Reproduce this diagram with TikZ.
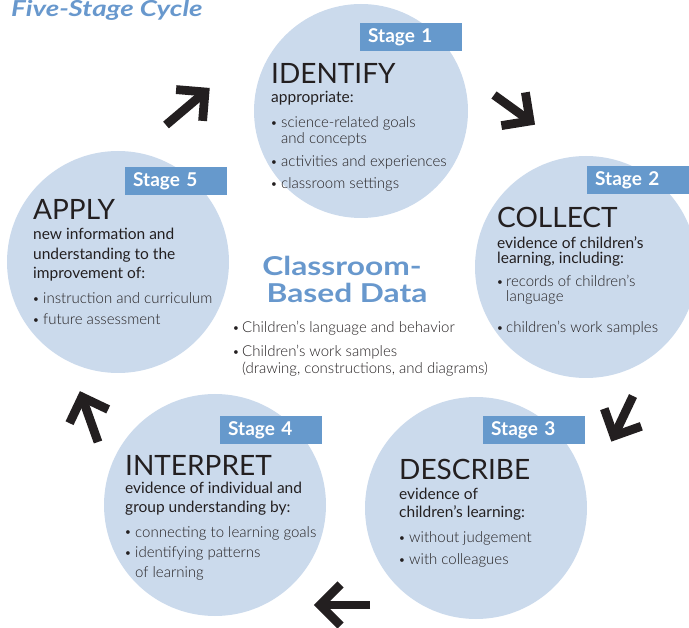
\documentclass[tikz,border=0pt]{standalone}
\usepackage{fontspec}
\setmainfont{Lato}
\newfontfamily\lightfont{Lato Light}
\usetikzlibrary{calc}
\definecolor{circ}{RGB}{203,218,236}
\definecolor{stageblue}{RGB}{102,153,204}
\definecolor{titleblue}{RGB}{104,152,205}
\definecolor{ink}{RGB}{35,31,32}
\begin{document}
\begin{tikzpicture}[x=1pt,y=-1pt,
  stagecirc/.style={circle, fill=circ, inner sep=0pt, minimum size=222pt},
  stagebox/.style={fill=stageblue, text=white, font=\fontsize{19}{19}\selectfont\bfseries, text width=86pt, inner xsep=8pt, minimum height=28pt, inner ysep=0pt, align=left, anchor=north west},
  head/.style={anchor=base west, inner sep=0pt, text=ink, font=\fontsize{28}{28}\selectfont},
  sub/.style={anchor=base west, inner sep=0pt, text=ink, font=\fontsize{15.5}{15.5}\selectfont},
  item/.style={anchor=base west, inner sep=0pt, text=ink, font=\fontsize{15}{15}\selectfont\lightfont},
  dot/.style={anchor=base west, inner sep=0pt, text=ink, font=\fontsize{10}{10}\selectfont},
  bigblue/.style={anchor=base, inner sep=0pt, text=titleblue, font=\fontsize{26}{26}\selectfont\bfseries},
  flow/.style={line width=8.8pt, draw=ink, line cap=butt, line join=miter}]
\useasboundingbox (0,0) rectangle (689,628);

% circles
\node[stagecirc, minimum size=214pt] (c1) at (361,111) {};
\node[stagecirc] (c2) at (586,267) {};
\node[stagecirc] (c5) at (118,262) {};
\node[stagecirc] (c4) at (215,505) {};
\node[stagecirc] (c3) at (476,508) {};

% title
\node[anchor=base west, inner sep=0pt, text=titleblue, font=\fontsize{22}{22}\selectfont\bfseries\itshape] (title) at (11,17) {\scalebox{1.26}[1]{Five-Stage Cycle}};

% stage boxes
\node[stagebox] (s1) at (360,23) {Stage 1};
\node[stagebox] (s2) at (587,166) {Stage 2};
\node[stagebox] (s5) at (125,167) {Stage 5};
\node[stagebox] (s4) at (220,416) {Stage 4};
\node[stagebox] (s3) at (483,416) {Stage 3};

% Stage 1
\node[head] (h1) at (271,84) {IDENTIFY};
\node[sub] (t1a) at (271,103) {appropriate:};
\node[dot] (d1a) at (271,127) {•};
\node[item] (t1b) at (281,128) {science-related goals};
\node[item] (t1c) at (281,144) {and concepts};
\node[dot] (d1b) at (271,166) {•};
\node[item] (t1d) at (281,167) {activities and experiences};
\node[dot] (d1c) at (271,188) {•};
\node[item] (t1e) at (281,189) {classroom settings};

% Stage 2
\node[head] (h2) at (497,228) {COLLECT};
\node[sub] (t2a) at (497,249) {evidence of children’s};
\node[sub] (t2b) at (497,264) {learning, including:};
\node[dot] (d2a) at (497,286) {•};
\node[item] (t2c) at (506,287) {records of children’s};
\node[item] (t2d) at (506,302) {language};
\node[dot] (d2b) at (497,332) {•};
\node[item] (t2e) at (506,333) {children’s work samples};

% Stage 5
\node[head] (h5) at (33,220) {APPLY};
\node[sub] (t5a) at (33,240) {new information and};
\node[sub] (t5b) at (33,260) {understanding to the};
\node[sub] (t5c) at (33,279) {improvement of:};
\node[dot] (d5a) at (33,303) {•};
\node[item] (t5d) at (43,304) {instruction and curriculum};
\node[dot] (d5b) at (33,324) {•};
\node[item] (t5e) at (43,325) {future assessment};

% centre
\node[bigblue] (cb1) at (342,276) {\scalebox{1.22}[1]{Classroom-}};
\node[bigblue] (cb2) at (347,303) {\scalebox{1.22}[1]{Based Data}};
\node[dot] (d0a) at (233,332) {•};
\node[item] (t0a) at (242,333) {Children’s language and behavior};
\node[dot] (d0b) at (233,356) {•};
\node[item] (t0b) at (242,357) {Children’s work samples};
\node[item] (t0c) at (242,374) {(drawing, constructions, and diagrams)};

% Stage 3
\node[head] (h3) at (399,480) {DESCRIBE};
\node[sub] (t3a) at (399,500) {evidence of};
\node[sub] (t3b) at (399,518) {children’s learning:};
\node[dot] (d3a) at (399,542) {•};
\node[item] (t3c) at (409,543) {without judgement};
\node[dot] (d3b) at (399,564) {•};
\node[item] (t3d) at (409,565) {with colleagues};

% Stage 4
\node[head] (h4) at (125,476) {INTERPRET};
\node[sub] (t4a) at (125,494) {evidence of individual and};
\node[sub] (t4b) at (125,513) {group understanding by:};
\node[dot] (d4a) at (125,536) {•};
\node[item] (t4c) at (135,537) {connecting to learning goals};
\node[dot] (d4b) at (125,557) {•};
\node[item] (t4d) at (135,558) {identifying patterns};
\node[item] (t4e) at (135,578) {of learning};

% arrows
\coordinate (a1t) at (166,125); \coordinate (a1h) at (205,92);
\coordinate (a2t) at (494,95);  \coordinate (a2h) at (530,121);
\coordinate (a3t) at (633,396); \coordinate (a3h) at (614,436);
\coordinate (a4t) at (370,605); \coordinate (a4h) at (320,605);
\coordinate (a5t) at (98,442);  \coordinate (a5h) at (82,397);
\foreach \t/\h in {a1t/a1h,a2t/a2h,a3t/a3h,a4t/a4h,a5t/a5h}{
  \draw[flow] (\t) -- (\h);
  \draw[flow] ($(\h)!29pt!45:(\t)$) -- (\h) -- ($(\h)!29pt!-45:(\t)$);
}
\end{tikzpicture}
\end{document}
